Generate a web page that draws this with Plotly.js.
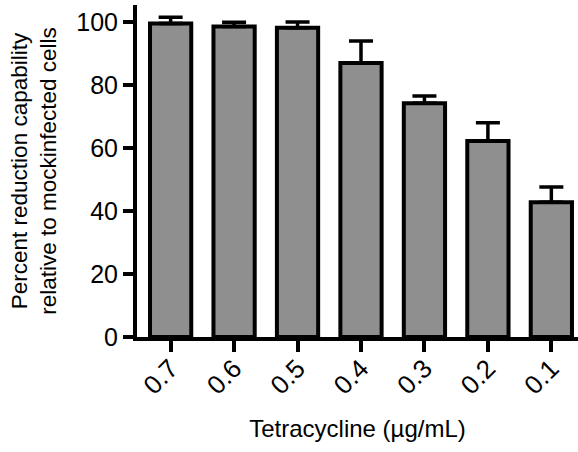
<!DOCTYPE html>
<html>
<head>
<meta charset="utf-8">
<script src="https://cdn.plot.ly/plotly-3.0.1.min.js"></script>
<style>html,body{margin:0;padding:0;background:#fff;}#chart{width:578px;height:452px;}</style>
</head>
<body>
<div id="chart"></div>
<script>
const categories = ["0.7", "0.6", "0.5", "0.4", "0.3", "0.2", "0.1"];
const meanValues = [99.5, 98.6, 98.2, 87.0, 74.2, 62.2, 42.8];
const errorValues = [2.0, 1.3, 1.8, 7.0, 2.3, 5.8, 4.8];
const zeroMinus = [0, 0, 0, 0, 0, 0, 0];
const yTickValues = [0, 20, 40, 60, 80, 100];

const narrow = "'Liberation Sans Narrow', 'Arial Narrow', 'Liberation Sans', Arial, sans-serif";
const regular = "'Liberation Sans', Arial, sans-serif";

const trace = {
  type: 'bar',
  x: categories,
  y: meanValues,
  width: 0.65,
  marker: { color: '#8f8f8f', line: { color: '#000', width: 4 } },
  error_y: {
    type: 'data', symmetric: false, array: errorValues, arrayminus: zeroMinus,
    color: '#000', thickness: 3.5, width: 12
  },
  hoverinfo: 'none'
};

const layout = {
  width: 578, height: 452,
  margin: { l: 137, r: 0, t: 5, b: 115 },
  paper_bgcolor: '#fff', plot_bgcolor: '#fff',
  showlegend: false,
  xaxis: {
    type: 'category',
    range: [-0.53, 6.42],
    showline: true, linecolor: '#000', linewidth: 4,
    ticks: 'outside', ticklen: 11, tickwidth: 4, tickcolor: '#000',
    tickangle: -45,
    ticklabelstandoff: -9,
    tickfont: { family: narrow, size: 26, color: '#000' },
    showgrid: false, zeroline: false,
    title: { text: 'Tetracycline (µg/mL)', font: { family: regular, size: 24, color: '#000' }, standoff: 22 }
  },
  yaxis: {
    range: [0, 105.4],
    tickvals: yTickValues,
    ticktext: yTickValues.map(String),
    showline: true, linecolor: '#000', linewidth: 4,
    ticks: 'outside', ticklen: 10, tickwidth: 4, tickcolor: '#000',
    tickfont: { family: narrow, size: 25, color: '#000' },
    showgrid: false, zeroline: false,
    title: { text: 'Percent reduction capability<br>relative to mockinfected cells', font: { family: regular, size: 22.5, color: '#000' }, standoff: 14 }
  }
};

Plotly.newPlot('chart', [trace], layout, { staticPlot: true, displayModeBar: false });
</script>
</body>
</html>
